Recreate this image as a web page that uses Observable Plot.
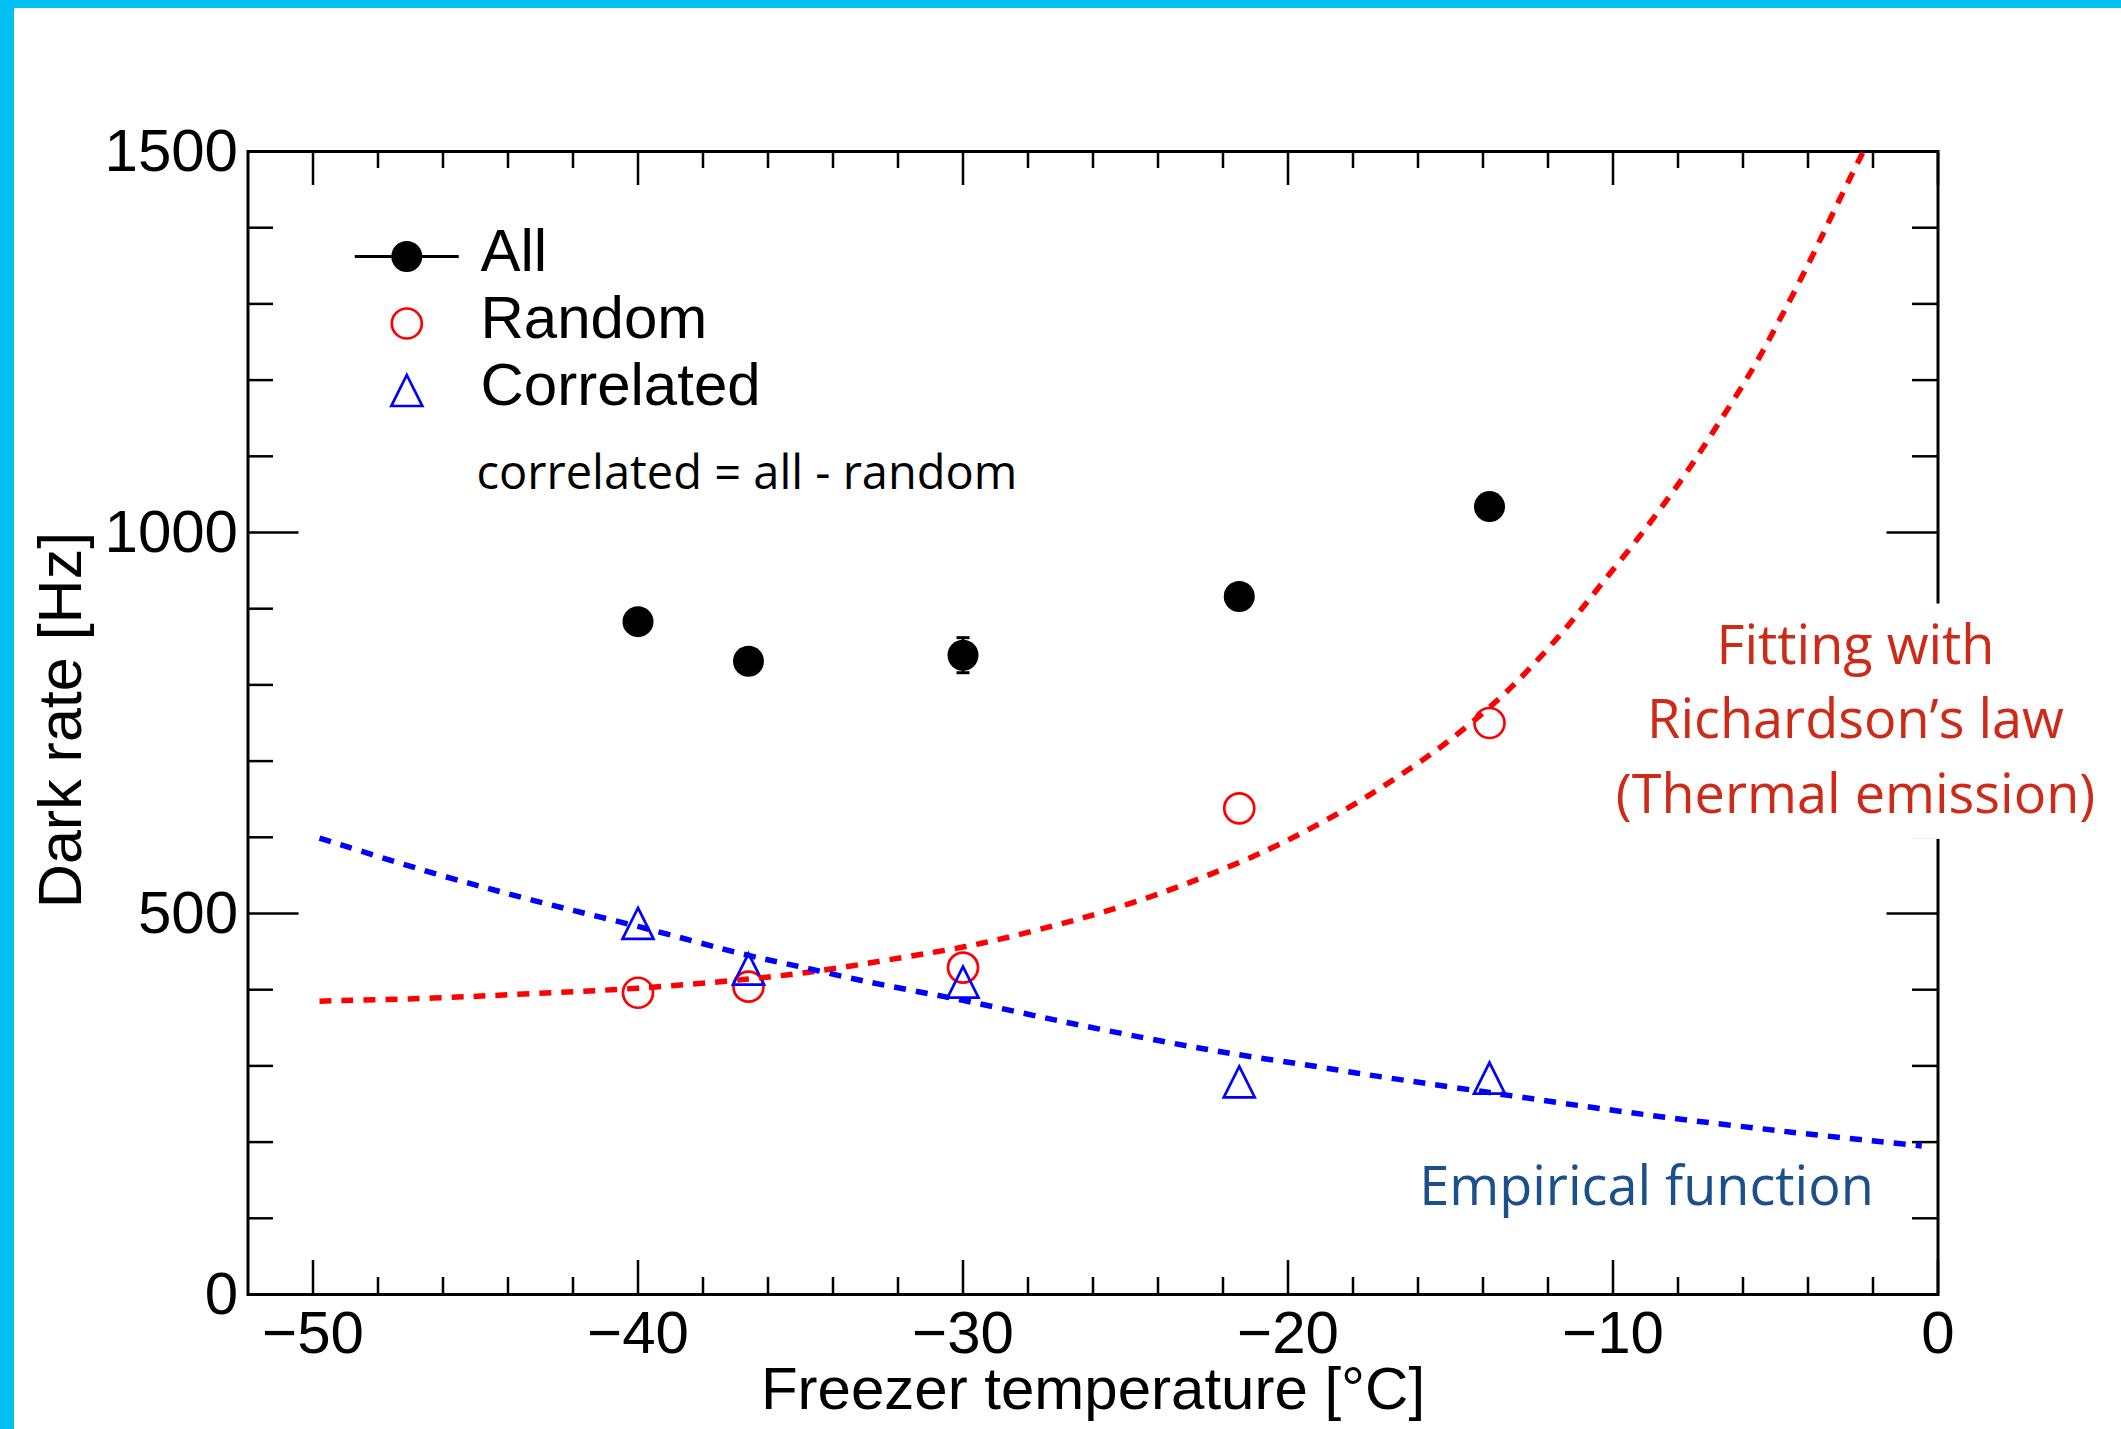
<!DOCTYPE html>
<html>
<head>
<meta charset="utf-8">
<script src="https://cdn.jsdelivr.net/npm/d3@7"></script>
<script src="https://cdn.jsdelivr.net/npm/@observablehq/plot@0.6"></script>
<style>
  html, body { margin: 0; padding: 0; background: #fff; overflow: hidden; }
  #chart { position: relative; width: 2121px; height: 1429px; }
  .band { position: absolute; background: #00bff2; z-index: 2; }
</style>
</head>
<body>
<div id="chart">
  <div class="band" style="left:0;top:0;width:2121px;height:8px"></div>
  <div class="band" style="left:0;top:0;width:14px;height:1429px"></div>
</div>
<script>
// Freezer temperature of each measurement [°C]
const temperature = [-40, -36.6, -30, -21.5, -13.8];
// Total dark rate and its uncertainty [Hz]
const allRate = [883, 831, 839, 916, 1034];
const allError = [10, 10, 23, 10, 10];
// Random (uncorrelated) part of the dark rate [Hz]
const randomRate = [396, 404, 429, 638, 750];
// Correlated part (all − random) [Hz]
const correlatedRate = [487, 427, 410, 279, 284];

// Richardson's-law fit to the random part, sampled along the fitted curve
const richardsonT = [-49.8, -46.3, -43.2, -40.0, -36.6, -34.4, -31.9, -30.0, -28.9, -27.2,
  -25.6, -23.7, -22.3, -20.6, -19.2, -17.9, -16.6, -15.1, -13.5, -12.6,
  -11.5, -10.4, -9.0, -7.8, -6.8, -5.7, -4.8, -3.9, -3.2, -2.3];
const richardsonRate = [385, 389, 395, 402, 414, 425, 442, 456, 466, 484,
  503, 530, 553, 584, 614, 645, 680, 725, 782, 820,
  872, 930, 1005, 1075, 1140, 1215, 1285, 1360, 1422, 1500];

// Empirical fit to the correlated part, sampled along the fitted curve
const empiricalT = [-49.8, -46.3, -43.2, -40.0, -36.6, -35.0, -33.0, -30.0, -26.8,
  -23.7, -21.7, -19.1, -17.8, -13.8, -9.0, -4.5, -0.5];
const empiricalRate = [599, 553, 517, 483, 445, 430, 411, 386, 357,
  331, 316, 299, 290, 265, 236, 213, 195];

// Axis ticks
const xMajor = [-50, -40, -30, -20, -10, 0];
const xMinor = [-48, -46, -44, -42, -38, -36, -34, -32, -28, -26, -24, -22,
  -18, -16, -14, -12, -8, -6, -4, -2];
const yMajor = [0, 500, 1000, 1500];
const yMinor = [100, 200, 300, 400, 600, 700, 800, 900, 1100, 1200, 1300, 1400];

const xTitle = "Freezer temperature [°C]";
const yTitle = "Dark rate [Hz]";
const legendLabels = ["All", "Random", "Correlated"];
const relationNote = "correlated = all - random";
const richardsonNote = "Fitting with\nRichardson’s law\n(Thermal emission)";
const empiricalNote = "Empirical function";

// ---- layout ----
const W = 2121, H = 1429;
const mL = 247.5, mR = 183.5, mT = 151, mB = 135;
const plotW = W - mL - mR, plotH = H - mT - mB;
const helv = "'Liberation Sans', Arial, Helvetica, sans-serif";
const humanist = "'Open Sans', 'Noto Sans', sans-serif";

const points = temperature.map((t, i) => ({
  t, all: allRate[i], err: allError[i], random: randomRate[i], correlated: correlatedRate[i]
}));
const richardson = richardsonT.map((t, i) => ({t, rate: richardsonRate[i]}));
const empirical = empiricalT.map((t, i) => ({t, rate: empiricalRate[i]}));

// Custom marker shapes (size = π r²)
const radius = (size) => Math.sqrt(size / Math.PI);
const openTriangle = {
  draw(ctx, size) {
    const r = radius(size);
    ctx.moveTo(0, -r); ctx.lineTo(r, r); ctx.lineTo(-r, r); ctx.closePath();
  }
};
const hLine = {
  draw(ctx, size) {
    const r = radius(size);
    ctx.moveTo(-r, 0); ctx.lineTo(r, 0);
  }
};

// Legend entries, offsets from the top-left corner of the frame
const legendDX = 158.8, legendTextDX = 232.5;
const legendDY = [105, 172, 239];
const legendBaseDY = [119, 186, 253];

const fmt = d3.format("d");
const dashed = {strokeWidth: 5.5, strokeDasharray: "12,10", strokeLinecap: "butt", curve: "catmull-rom"};

const chart = Plot.plot({
  width: W, height: H,
  marginLeft: mL, marginRight: mR, marginTop: mT, marginBottom: mB,
  x: {domain: [-52, 0]},
  y: {domain: [0, 1500]},
  style: {fontFamily: helv, fontSize: "60px", background: "transparent", color: "black", overflow: "visible"},
  marks: [
    Plot.frame({stroke: "black", strokeWidth: 3}),

    // inward ticks on all four sides
    Plot.tickX(xMajor, {x: d => d, insetTop: plotH - 34, strokeWidth: 2.5}),
    Plot.tickX(xMajor, {x: d => d, insetBottom: plotH - 34, strokeWidth: 2.5}),
    Plot.tickX(xMinor, {x: d => d, insetTop: plotH - 17, strokeWidth: 2.5}),
    Plot.tickX(xMinor, {x: d => d, insetBottom: plotH - 17, strokeWidth: 2.5}),
    Plot.tickY(yMajor, {y: d => d, insetRight: plotW - 51, strokeWidth: 2.5}),
    Plot.tickY(yMajor, {y: d => d, insetLeft: plotW - 51, strokeWidth: 2.5}),
    Plot.tickY(yMinor, {y: d => d, insetRight: plotW - 25.5, strokeWidth: 2.5}),
    Plot.tickY(yMinor, {y: d => d, insetLeft: plotW - 25.5, strokeWidth: 2.5}),

    // tick labels and axis titles
    Plot.axisX({ticks: xMajor, tickSize: 0, tickPadding: 16, tickFormat: fmt, label: null, fontSize: 60}),
    Plot.axisY({ticks: yMajor, tickSize: 0, tickPadding: 10, tickFormat: fmt, label: null, fontSize: 60}),
    Plot.text([xTitle], {text: d => d, frameAnchor: "bottom", lineAnchor: "bottom", dy: 114, fontSize: 60}),
    Plot.text([yTitle], {text: d => d, frameAnchor: "left", textAnchor: "middle", lineAnchor: "bottom",
      rotate: -90, dx: -167.5, dy: -3, fontSize: 61}),

    // annotations
    Plot.text([richardsonNote], {
      text: d => d, frameAnchor: "top-left", dx: 1607.5, dy: 661.4,
      textAnchor: "middle", lineAnchor: "bottom", lineHeight: 1.383,
      fontSize: 54, fontFamily: humanist, fill: "#cd2a18", ariaDescription: "richardson-note"
    }),
    Plot.text([empiricalNote], {
      text: d => d, frameAnchor: "top-left", dx: 1398.5, dy: 1053.5,
      textAnchor: "middle", lineAnchor: "bottom",
      fontSize: 54, fontFamily: humanist, fill: "#1c508c"
    }),
    Plot.text([relationNote], {
      text: d => d, frameAnchor: "top-left", dx: 228.5, dy: 337.3,
      textAnchor: "start", lineAnchor: "bottom", fontSize: 47, fontFamily: humanist, fill: "black"
    }),

    // legend
    Plot.dot([0], {frameAnchor: "top-left", dx: legendDX, dy: legendDY[0], symbol: hLine, r: 52, stroke: "black", strokeWidth: 3}),
    Plot.dot([0], {frameAnchor: "top-left", dx: legendDX, dy: legendDY[0], r: 15.5, fill: "black"}),
    Plot.dot([0], {frameAnchor: "top-left", dx: legendDX, dy: legendDY[1], r: 15, stroke: "#ff0000", strokeWidth: 2.7, fill: "none"}),
    Plot.dot([0], {frameAnchor: "top-left", dx: legendDX, dy: legendDY[2], symbol: openTriangle, r: 15.5, stroke: "#0000ff", strokeWidth: 2.7, fill: "none"}),
    ...legendLabels.map((label, i) => Plot.text([label], {
      text: d => d, frameAnchor: "top-left", dx: legendTextDX, dy: legendBaseDY[i],
      textAnchor: "start", lineAnchor: "bottom", fontSize: 60
    })),

    // measurements
    Plot.ruleX(points, {x: "t", y1: d => d.all - d.err, y2: d => d.all + d.err, strokeWidth: 2.5}),
    Plot.dot(points, {x: "t", y: d => d.all + d.err, symbol: hLine, r: 6.5, stroke: "black", strokeWidth: 3}),
    Plot.dot(points, {x: "t", y: d => d.all - d.err, symbol: hLine, r: 6.5, stroke: "black", strokeWidth: 3}),
    Plot.dot(points, {x: "t", y: "all", r: 15.5, fill: "black"}),
    Plot.dot(points, {x: "t", y: "random", r: 15, stroke: "#ff0000", strokeWidth: 2.7, fill: "none"}),
    Plot.dot(points, {x: "t", y: "correlated", symbol: openTriangle, r: 15.5, stroke: "#0000ff", strokeWidth: 2.7, fill: "none"}),

    // fitted curves
    Plot.line(richardson, {x: "t", y: "rate", stroke: "#ff0000", ...dashed}),
    Plot.line(empirical, {x: "t", y: "rate", stroke: "#0000ff", ...dashed})
  ]
});

document.getElementById("chart").appendChild(chart);

// White box behind the Richardson annotation (hides the frame under it)
const noteGroup = chart.querySelector("g[aria-description='richardson-note']");
if (noteGroup) {
  const bb = noteGroup.getBBox();
  const rect = document.createElementNS("http://www.w3.org/2000/svg", "rect");
  rect.setAttribute("x", bb.x - 6);
  rect.setAttribute("y", bb.y - 2);
  rect.setAttribute("width", bb.width + 12);
  rect.setAttribute("height", bb.height + 12);
  rect.setAttribute("fill", "white");
  noteGroup.insertBefore(rect, noteGroup.firstChild);
}
</script>
</body>
</html>
